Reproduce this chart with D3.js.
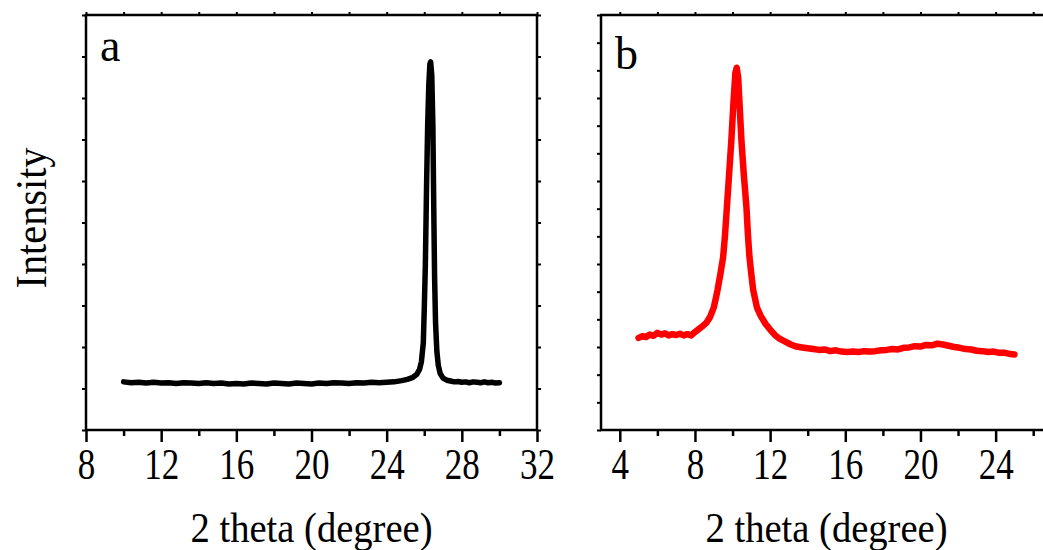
<!DOCTYPE html>
<html>
<head>
<meta charset="utf-8">
<script src="https://cdn.jsdelivr.net/npm/d3@7"></script>
<style>
  body { margin: 0; background: #fff; }
  svg { display: block; font-family: "Liberation Serif", "DejaVu Serif", serif; }
</style>
</head>
<body>
<div id="chart"></div>
<script>
// panel a (black)
var aTheta = [10, 10.4, 10.8, 11.2, 11.6, 12, 12.4, 12.8, 13.2, 13.6, 14, 14.4, 14.8, 15.2, 15.6, 16, 16.4, 16.8, 17.2, 17.6,
  18, 18.4, 18.8, 19.2, 19.6, 20, 20.4, 20.8, 21.2, 21.6, 22, 22.4, 22.8, 23.2, 23.6, 24, 24.4, 24.8, 25.1, 25.4,
  25.6, 25.75, 25.85, 25.95, 26.0, 26.06, 26.12, 26.18, 26.24, 26.3, 26.34, 26.4, 26.46, 26.51, 26.55, 26.6, 26.67, 26.75, 26.85, 27.0,
  27.2, 27.4, 27.6, 27.8, 28, 28.2, 28.4, 28.6, 28.8, 29, 29.2, 29.4, 29.6, 29.8, 30];
var aIntensity = [11.6, 11.4, 11.5, 11.3, 11.5, 11.3, 11.4, 11.2, 11.4, 11.3, 11.2, 11.4, 11.2, 11.3, 11.1, 11.2, 11.1, 11.3, 11.2, 11.1,
  11.3, 11.2, 11.1, 11.3, 11.2, 11.1, 11.3, 11.2, 11.4, 11.3, 11.2, 11.4, 11.3, 11.5, 11.4, 11.5, 11.6, 11.9, 12.2, 12.7,
  13.4, 14.6, 16.5, 21, 29, 40, 58, 73, 83, 88.2, 88.7, 85.5, 73, 52, 37, 26, 19, 15.5, 13.6, 12.5,
  12.0, 11.8, 11.6, 11.7, 11.5, 11.6, 11.4, 11.6, 11.5, 11.4, 11.6, 11.4, 11.5, 11.3, 11.4];

// panel b (red)
var bTheta = [5.0, 5.2, 5.4, 5.6, 5.8, 6.0, 6.2, 6.4, 6.6, 6.8, 7.0, 7.2, 7.4, 7.6, 7.8, 8.0, 8.2, 8.4, 8.6, 8.8,
  9.0, 9.1, 9.2, 9.35, 9.5, 9.6, 9.7, 9.8, 9.94, 10.05, 10.15, 10.22, 10.3, 10.38, 10.47, 10.6, 10.74, 10.82, 10.9, 11.0,
  11.1, 11.3, 11.5, 11.75, 12.0, 12.25, 12.5, 12.8, 13.1, 13.4, 13.7, 14.0, 14.3, 14.6, 14.9, 15.2, 15.5, 15.8, 16.1, 16.4,
  16.7, 17.0, 17.3, 17.6, 17.9, 18.2, 18.5, 18.8, 19.1, 19.4, 19.7, 20.0, 20.3, 20.6, 20.9, 21.2, 21.5, 21.8, 22.1, 22.4,
  22.7, 23.0, 23.3, 23.6, 23.9, 24.2, 24.5, 24.8, 25.0];
var bIntensity = [22.2, 22.6, 22.4, 23.0, 22.7, 23.4, 23.0, 23.3, 22.8, 23.1, 22.9, 23.2, 22.8, 23.1, 22.8, 23.6, 24.3, 25.0, 25.8, 27.2,
  29.5, 31.5, 33.7, 37.5, 41.7, 47, 53.7, 60.5, 70, 79, 86, 87.3, 85, 78, 70, 61.5, 53.7, 47, 41.7, 37.5,
  33.7, 29.5, 27.5, 25.6, 24.2, 22.9, 22.0, 21.3, 20.6, 20.1, 19.9, 19.7, 19.5, 19.3, 19.4, 19.0, 19.2, 18.9, 18.8, 18.9,
  18.8, 19.0, 18.9, 19.0, 19.2, 19.3, 19.5, 19.4, 19.8, 19.9, 20.2, 20.1, 20.5, 20.4, 20.8, 20.6, 20.3, 20.0, 19.8, 19.5,
  19.4, 19.1, 19.0, 18.8, 18.9, 18.6, 18.6, 18.3, 18.2];

var aDomain = [8, 32], bDomain = [3, 27];
var aTicks = [8, 12, 16, 20, 24, 28, 32];
var bTicks = [4, 8, 12, 16, 20, 24];
var panelLetters = ["a", "b"];
var xTitle = "2 theta (degree)", yTitle = "Intensity";

var W = 1043, H = 550;
var plotTop = 15, plotBottom = 430, pw = 451;

var svg = d3.select("#chart").append("svg")
  .attr("width", W).attr("height", H);

var y = d3.scaleLinear().domain([0, 100]).range([plotBottom, plotTop]);

function panel(left, domain, ticks, xs, ys, color, lw, letter, letterY, nLeft) {
  var x = d3.scaleLinear().domain(domain).range([left, left + pw]);
  var g = svg.append("g");

  // minor ticks (bottom), outward
  var minor = d3.range(domain[0], domain[1] + 0.01, 1).filter(function (v) { return v % 4 == 2; });
  g.append("g").attr("transform", "translate(0," + plotBottom + ")")
    .call(d3.axisBottom(x).tickValues(minor).tickSize(6).tickFormat(""))
    .call(function (s) { s.select(".domain").remove(); s.selectAll("line").attr("stroke-width", 2.5); });

  // major ticks + labels
  var ax = g.append("g").attr("transform", "translate(0," + plotBottom + ")")
    .call(d3.axisBottom(x).tickValues(ticks).tickSize(12).tickPadding(0))
    .call(function (s) { s.select(".domain").remove(); });
  ax.attr("font-size", 44).attr("font-family", "Liberation Serif, serif");
  ax.selectAll("line").attr("stroke-width", 2.5);
  ax.selectAll("text")
    .attr("y", 49).attr("dy", 0)
    .attr("fill", "#000")
    .attr("textLength", function (d) { return String(d).length * 17.5; })
    .attr("lengthAdjust", "spacingAndGlyphs");

  // top small ticks every 2 units
  var topT = d3.range(domain[0], domain[1] + 0.01, 1).filter(function (v) { return v % 2 == 0; });
  g.append("g").attr("transform", "translate(0," + plotTop + ")")
    .call(d3.axisTop(x).tickValues(topT).tickSize(3).tickFormat(""))
    .call(function (s) { s.select(".domain").remove(); s.selectAll("line").attr("stroke-width", 2); });

  // left & right small ticks
  var yt = d3.range(0, nLeft + 1).map(function (i) { return i * 100 / nLeft; });
  g.append("g").attr("transform", "translate(" + left + ",0)")
    .call(d3.axisLeft(y).tickValues(yt).tickSize(4).tickFormat(""))
    .call(function (s) { s.select(".domain").remove(); s.selectAll("line").attr("stroke-width", 2); });
  g.append("g").attr("transform", "translate(" + (left + pw) + ",0)")
    .call(d3.axisRight(y).tickValues(yt).tickSize(4).tickFormat(""))
    .call(function (s) { s.select(".domain").remove(); s.selectAll("line").attr("stroke-width", 2); });

  // frame
  g.append("rect")
    .attr("x", left).attr("y", plotTop).attr("width", pw).attr("height", plotBottom - plotTop)
    .attr("fill", "none").attr("stroke", "#000").attr("stroke-width", 2.5);

  // curve
  var pts = xs.map(function (v, i) { return [v, ys[i]]; });
  g.append("path")
    .datum(pts)
    .attr("d", d3.line().x(function (d) { return x(d[0]); }).y(function (d) { return y(d[1]); }))
    .attr("fill", "none").attr("stroke", color).attr("stroke-width", lw)
    .attr("stroke-linejoin", "round").attr("stroke-linecap", "round");

  // panel letter
  g.append("text").attr("x", left + 14).attr("y", letterY)
    .attr("font-size", 46).text(letter);

  // x title
  g.append("text").attr("x", left + pw / 2).attr("y", 542)
    .attr("text-anchor", "middle").attr("font-size", 43)
    .attr("textLength", 242).attr("lengthAdjust", "spacingAndGlyphs")
    .text(xTitle);
}

panel(86, aDomain, aTicks, aTheta, aIntensity, "#000", 5.5, panelLetters[0], 61, 10);
panel(601, bDomain, bTicks, bTheta, bIntensity, "#ff0000", 6.5, panelLetters[1], 69, 15);

svg.append("text")
  .attr("transform", "translate(46,218) rotate(-90)")
  .attr("text-anchor", "middle").attr("font-size", 44)
  .attr("textLength", 141).attr("lengthAdjust", "spacingAndGlyphs")
  .text(yTitle);
</script>
</body>
</html>
